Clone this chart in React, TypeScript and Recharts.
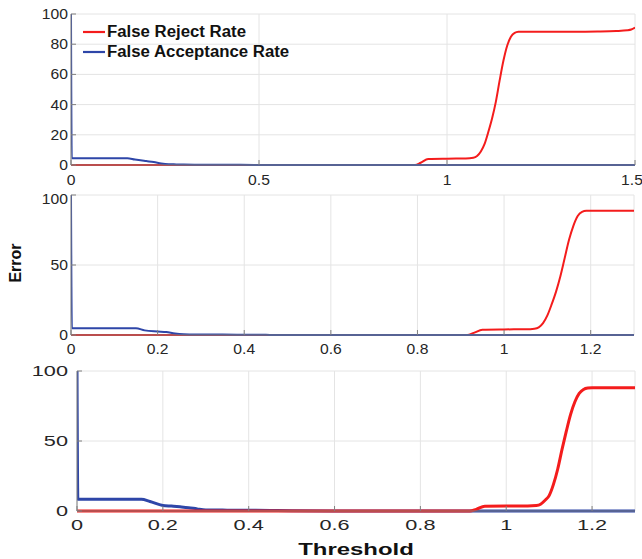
import React from "react";
import { LineChart, Line, XAxis, YAxis, CartesianGrid, Legend } from "recharts";

// thresholds shared by the two lower panels (0 … 1.3)
const thr = [
  0, 0.002, 0.05, 0.1, 0.15, 0.17, 0.2, 0.22, 0.24, 0.26,
  0.28, 0.3, 0.35, 0.4, 0.45, 0.5, 0.6, 0.7, 0.8, 0.9,
  0.915, 0.93, 0.95, 1.0, 1.05, 1.07, 1.08, 1.09, 1.1, 1.11,
  1.12, 1.13, 1.14, 1.15, 1.16, 1.17, 1.18, 1.19, 1.2, 1.25, 1.3,
];
// top panel runs out to 1.5
const thrTop = [...thr, 1.35, 1.4, 1.45, 1.48, 1.49, 1.5];

const frrTop = [
  0, 0, 0, 0, 0, 0, 0, 0, 0, 0,
  0, 0, 0, 0, 0, 0, 0, 0, 0, 0,
  0, 1.5, 4.0, 4.2, 4.3, 4.8, 6, 9, 14, 22,
  31, 42, 56, 69, 79, 85, 87.5, 88.2, 88.3, 88.3, 88.3,
  88.3, 88.4, 88.7, 89.2, 89.7, 91,
];
const farTop = [
  100, 4.5, 4.5, 4.5, 4.5, 3.6, 2.6, 2.0, 1.0, 0.5,
  0.4, 0.3, 0.2, 0.15, 0.1, 0, 0, 0, 0, 0,
  0, 0, 0, 0, 0, 0, 0, 0, 0, 0,
  0, 0, 0, 0, 0, 0, 0, 0, 0, 0, 0,
  0, 0, 0, 0, 0, 0,
];

const frrMid = [
  0, 0, 0, 0, 0, 0, 0, 0, 0, 0,
  0, 0, 0, 0, 0, 0, 0, 0, 0, 0,
  0, 1.5, 3.8, 4.0, 4.1, 4.5, 5.5, 8.5, 14, 22,
  31, 42, 55, 68, 78, 85, 88, 88.8, 88.8, 88.8, 88.8,
];
const farMid = [
  100, 4.8, 4.8, 4.8, 4.8, 3.3, 2.5, 2.1, 1.0, 0.5,
  0.4, 0.3, 0.3, 0.2, 0.1, 0, 0, 0, 0, 0,
  0, 0, 0, 0, 0, 0, 0, 0, 0, 0,
  0, 0, 0, 0, 0, 0, 0, 0, 0, 0, 0,
];

const frrLow = [
  0, 0, 0, 0, 0, 0, 0, 0, 0, 0,
  0, 0, 0, 0, 0, 0, 0, 0, 0, 0,
  0, 1.2, 3.4, 3.6, 3.6, 3.9, 4.8, 7.5, 11, 19,
  30, 44, 57, 69, 78, 84, 86.8, 87.8, 88, 88, 88,
];
const farLow = [
  100, 8.4, 8.4, 8.4, 8.4, 6.8, 4.0, 3.5, 3.0, 2.4,
  1.5, 0.8, 0.6, 0.5, 0.4, 0.2, 0, 0, 0, 0,
  0, 0, 0, 0, 0, 0, 0, 0, 0, 0,
  0, 0, 0, 0, 0, 0, 0, 0, 0, 0, 0,
];

const xTicksTop = [0, 0.5, 1, 1.5];
const xTicks = [0, 0.2, 0.4, 0.6, 0.8, 1, 1.2];
const yTicksTop = [0, 20, 40, 60, 80, 100];
const yTicks = [0, 50, 100];
const seriesNames = ["False Reject Rate", "False Acceptance Rate"];

const RED = "#f41c1c";
const BLUE = "#2e46a8";
const AXIS = "#808080";
const GRID = "#e4e4e4";
const INK = "#262626";
const FONT = "'Liberation Sans', Arial, Helvetica, sans-serif";

const rows = (t: number[], frr: number[], far: number[]) =>
  t.map((x, i) => ({ t: x, frr: frr[i], far: far[i] }));

function XTick({ x, y, payload, sx, size }: any) {
  return (
    <text transform={`translate(${x},${y}) scale(${sx},1)`} textAnchor="middle" dy="0.71em"
      fontSize={size} fill={INK} fontFamily={FONT}>{String(payload.value)}</text>
  );
}

function YTick({ x, y, payload, sx, size }: any) {
  return (
    <text transform={`translate(${x},${y}) scale(${sx},1)`} textAnchor="end" dy="0.355em"
      fontSize={size} fill={INK} fontFamily={FONT}>{String(payload.value)}</text>
  );
}

function Lg({ payload }: any) {
  // keep the plotting order, whatever order recharts hands the items over in
  const items = seriesNames
    .map((n) => (payload || []).find((p: any) => p.value === n))
    .filter(Boolean);
  return (
    <div style={{ fontFamily: FONT }}>
      {items.map((p: any) => (
        <div key={p.value} style={{ display: "flex", alignItems: "center", height: 20 }}>
          <svg width="24" height="4">
            <line x1="0" y1="2" x2="22" y2="2" stroke={p.color} strokeWidth="2.2" />
          </svg>
          <span style={{ fontSize: 16.8, fontWeight: 700, color: "#111", whiteSpace: "nowrap" }}>{p.value}</span>
        </div>
      ))}
    </div>
  );
}

function ErrorLabel({ viewBox }: any) {
  const cx = 15;
  const cy = (viewBox ? viewBox.y + viewBox.height / 2 : 75) - 2;
  return (
    <text x={cx} y={cy} transform={`rotate(-90 ${cx} ${cy})`} textAnchor="middle" dominantBaseline="central"
      fontSize={16} fontWeight={700} fill="#111" fontFamily={FONT}>Error</text>
  );
}

function ThreshLabel({ viewBox }: any) {
  const vb = viewBox || { x: 77, y: 151, width: 558, height: 48 };
  const cx = vb.x + vb.width / 2;
  const by = vb.y + 44;
  return (
    <text transform={`translate(${cx},${by}) scale(1.45,1)`} textAnchor="middle"
      fontSize={16.5} fontWeight={700} fill="#111" fontFamily={FONT}>Threshold</text>
  );
}

type PanelProps = {
  top: number; height: number; mTop: number; mRight: number; yW: number; xH: number;
  data: any[]; xMax: number; xt: number[]; yt: number[];
  xMargin: number; yMargin: number; sx: number; size: number; sw: number;
  legend?: boolean; yLabel?: boolean; xLabel?: boolean; redOnTop?: boolean;
};

function Panel(p: PanelProps) {
  const red = (
    <Line key="frr" dataKey="frr" name={seriesNames[0]} stroke={RED} strokeWidth={p.sw} type="monotone"
      dot={false} isAnimationActive={false} />
  );
  const blue = (
    <Line key="far" dataKey="far" name={seriesNames[1]} stroke={BLUE} strokeWidth={p.sw} type="monotone"
      dot={false} isAnimationActive={false} />
  );
  return (
    <div style={{ position: "absolute", left: 0, top: p.top }}>
      <LineChart width={642} height={p.height} data={p.data}
        margin={{ top: p.mTop, right: p.mRight, bottom: 0, left: 0 }}>
        <CartesianGrid stroke={GRID} strokeWidth={1} />
        <XAxis dataKey="t" type="number" domain={[0, p.xMax]} ticks={p.xt} allowDataOverflow
          height={p.xH} stroke={AXIS} tickSize={-5} tickMargin={p.xMargin}
          tick={(tp: any) => <XTick {...tp} sx={p.sx} size={p.size} />}
          label={p.xLabel ? { content: (lp: any) => <ThreshLabel {...lp} /> } : undefined} />
        <XAxis xAxisId="top" orientation="top" dataKey="t" type="number" domain={[0, p.xMax]} ticks={p.xt}
          allowDataOverflow height={0} stroke={AXIS} tickSize={-5} tickFormatter={() => ""} />
        <YAxis type="number" domain={[0, 100]} ticks={p.yt} width={p.yW} stroke={AXIS}
          tickSize={-5} tickMargin={p.yMargin}
          tick={(tp: any) => <YTick {...tp} sx={p.sx} size={p.size} />}
          label={p.yLabel ? { content: (lp: any) => <ErrorLabel {...lp} /> } : undefined} />
        <YAxis yAxisId="right" orientation="right" type="number" domain={[0, 100]} ticks={p.yt}
          width={0} stroke={AXIS} tickSize={-5} tickFormatter={() => ""} />
        {p.legend && (
          <Legend layout="vertical" align="center" verticalAlign="middle" content={<Lg />}
            wrapperStyle={{ left: 83, top: 22, width: 260, height: 40 }} />
        )}
        {p.redOnTop ? [blue, red] : [red, blue]}
      </LineChart>
    </div>
  );
}

export default function App() {
  return (
    <div style={{ position: "absolute", left: 0, top: 0, width: 642, height: 559, background: "#fff", overflow: "hidden" }}>
      <Panel top={0} height={190} mTop={14} mRight={7} yW={71} xH={25}
        data={rows(thrTop, frrTop, farTop)} xMax={1.5} xt={xTicksTop} yt={yTicksTop}
        xMargin={15} yMargin={8} sx={1.12} size={14} sw={2} legend />
      <Panel top={190} height={170} mTop={5} mRight={8} yW={71} xH={25}
        data={rows(thr, frrMid, farMid)} xMax={1.3} xt={xTicks} yt={yTicks}
        xMargin={14} yMargin={8} sx={1.12} size={14} sw={2} yLabel />
      <Panel top={360} height={199} mTop={11} mRight={7} yW={77} xH={48}
        data={rows(thr, frrLow, farLow)} xMax={1.3} xt={xTicks} yt={yTicks}
        xMargin={14} yMargin={14} sx={1.55} size={14} sw={3} xLabel redOnTop />
    </div>
  );
}
